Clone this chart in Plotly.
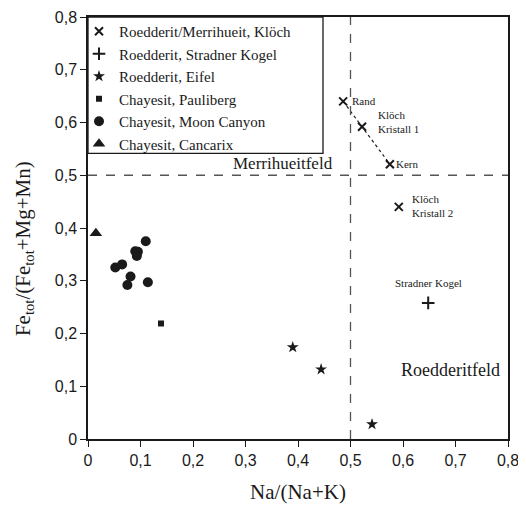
import plotly.graph_objects as go

# --- data ---
kloech_x = [0.486, 0.522, 0.575, 0.592]
kloech_y = [0.640, 0.592, 0.521, 0.440]
kloech_lbl = ["Rand", "Klöch<br>Kristall 1", "Kern", "Klöch<br>Kristall 2"]

stradner_x = [0.648]
stradner_y = [0.258]

eifel_x = [0.390, 0.444, 0.541]
eifel_y = [0.174, 0.132, 0.028]

pauliberg_x = [0.139]
pauliberg_y = [0.219]

moon_x = [0.052, 0.065, 0.090, 0.095, 0.093, 0.110, 0.081, 0.075, 0.114]
moon_y = [0.325, 0.331, 0.356, 0.355, 0.347, 0.375, 0.308, 0.292, 0.297]

cancarix_x = [0.015]
cancarix_y = [0.390]

boundary_na = 0.5
boundary_fe = 0.5

tick_vals = [0, 0.1, 0.2, 0.3, 0.4, 0.5, 0.6, 0.7, 0.8]
tick_text = ["0", "0,1", "0,2", "0,3", "0,4", "0,5", "0,6", "0,7", "0,8"]

ink = "#1a1a1a"
serif = "Times New Roman, Liberation Serif, DejaVu Serif, serif"
sans = "Arial, Liberation Sans, sans-serif"

# page body has an 8px margin: shrink figure and margins to compensate
W, H = 518, 499
ML, MR, MT, MB = 80, 18, 7, 68
PW = W - ML - MR
PH = H - MT - MB

fig = go.Figure()

# dotted zoning line (Rand - Kristall 1 - Kern)
fig.add_trace(go.Scatter(x=kloech_x[:3], y=kloech_y[:3], mode="lines",
                         line=dict(color=ink, width=1.2, dash="dot"),
                         showlegend=False, hoverinfo="skip"))

fig.add_trace(go.Scatter(x=kloech_x, y=kloech_y, mode="markers",
                         name="Roedderit/Merrihueit, Klöch",
                         marker=dict(symbol="x-thin-open", size=8, color=ink,
                                     line=dict(width=2, color=ink))))
fig.add_trace(go.Scatter(x=stradner_x, y=stradner_y, mode="markers",
                         name="Roedderit, Stradner Kogel",
                         marker=dict(symbol="cross-thin-open", size=9, color=ink,
                                     line=dict(width=2, color=ink))))
fig.add_trace(go.Scatter(x=eifel_x, y=eifel_y, mode="markers",
                         name="Roedderit, Eifel",
                         marker=dict(symbol="star", size=9, color=ink, line=dict(width=0))))
fig.add_trace(go.Scatter(x=pauliberg_x, y=pauliberg_y, mode="markers",
                         name="Chayesit, Pauliberg",
                         marker=dict(symbol="square", size=6, color=ink, line=dict(width=0))))
fig.add_trace(go.Scatter(x=moon_x, y=moon_y, mode="markers",
                         name="Chayesit, Moon Canyon",
                         marker=dict(symbol="circle", size=10, color=ink, line=dict(width=0))))
fig.add_trace(go.Scatter(x=cancarix_x, y=cancarix_y, mode="markers",
                         name="Chayesit, Cancarix",
                         marker=dict(symbol="triangle-up", size=11, color=ink, line=dict(width=0))))

# legend frame (drawn separately so that the entries can sit close to it)
box_right = 235 / PW
box_bottom = 1 - 137 / PH
shapes = [
    dict(type="rect", xref="paper", yref="paper", x0=0, x1=box_right,
         y0=box_bottom, y1=1, line=dict(color=ink, width=1.3), layer="above"),
    dict(type="line", xref="x", yref="paper", x0=boundary_na, x1=boundary_na,
         y0=0, y1=1, line=dict(color="#555", width=1.3, dash="dash")),
    dict(type="line", xref="paper", yref="y", x0=0, x1=1,
         y0=boundary_fe, y1=boundary_fe, line=dict(color="#555", width=1.3, dash="dash")),
]

# point labels
lab_font = dict(family=serif, size=11, color=ink)
offsets = [(7, 0), (14, 5), (4, 0), (11, 1)]
annotations = []
for xv, yv, t, (dx, dy) in zip(kloech_x, kloech_y, kloech_lbl, offsets):
    annotations.append(dict(x=xv, y=yv, text=t, showarrow=False, xanchor="left",
                            align="left", xshift=dx, yshift=dy, font=lab_font))
annotations.append(dict(x=stradner_x[0], y=stradner_y[0], text="Stradner Kogel",
                        showarrow=False, xanchor="center", yshift=20, font=lab_font))
# field labels
annotations.append(dict(x=boundary_na, y=boundary_fe, text="Merrihueitfeld", showarrow=False,
                        xanchor="right", yanchor="bottom", xshift=-16, yshift=0,
                        font=dict(family=serif, size=17, color=ink)))
annotations.append(dict(x=0.8, y=0.13, text="Roedderitfeld", showarrow=False,
                        xanchor="right", xshift=-6,
                        font=dict(family=serif, size=18, color=ink)))
# y-axis title (placed as a rotated annotation, slightly below the axis middle)
annotations.append(dict(x=-64 / PW, y=0.45, xref="paper", yref="paper",
                        text="Fe<sub>tot</sub>/(Fe<sub>tot</sub>+Mg+Mn)",
                        textangle=-90, showarrow=False, xanchor="center", yanchor="middle",
                        font=dict(family=serif, size=21, color=ink)))

axis_common = dict(range=[0, 0.8], tickvals=tick_vals, ticktext=tick_text,
                   showgrid=False, zeroline=False, showline=True, linecolor=ink,
                   linewidth=1.5, mirror=True, ticks="outside", ticklen=6,
                   tickcolor=ink, tickwidth=1.2, automargin=False,
                   tickfont=dict(family=sans, size=16, color=ink))

fig.update_layout(
    width=W, height=H,
    margin=dict(l=ML, r=MR, t=MT, b=MB),
    paper_bgcolor="white", plot_bgcolor="white",
    shapes=shapes, annotations=annotations,
    xaxis=dict(**axis_common,
               title=dict(text="Na/(Na+K)", font=dict(family=serif, size=21, color=ink),
                          standoff=16)),
    yaxis=dict(**axis_common),
    legend=dict(x=-9 / PW, y=1 + 2 / PH, xanchor="left", yanchor="top",
                borderwidth=0, bgcolor="rgba(0,0,0,0)",
                font=dict(family=serif, size=15, color=ink),
                itemwidth=30, tracegroupgap=0),
    showlegend=True,
)

fig.write_html("out.html")
